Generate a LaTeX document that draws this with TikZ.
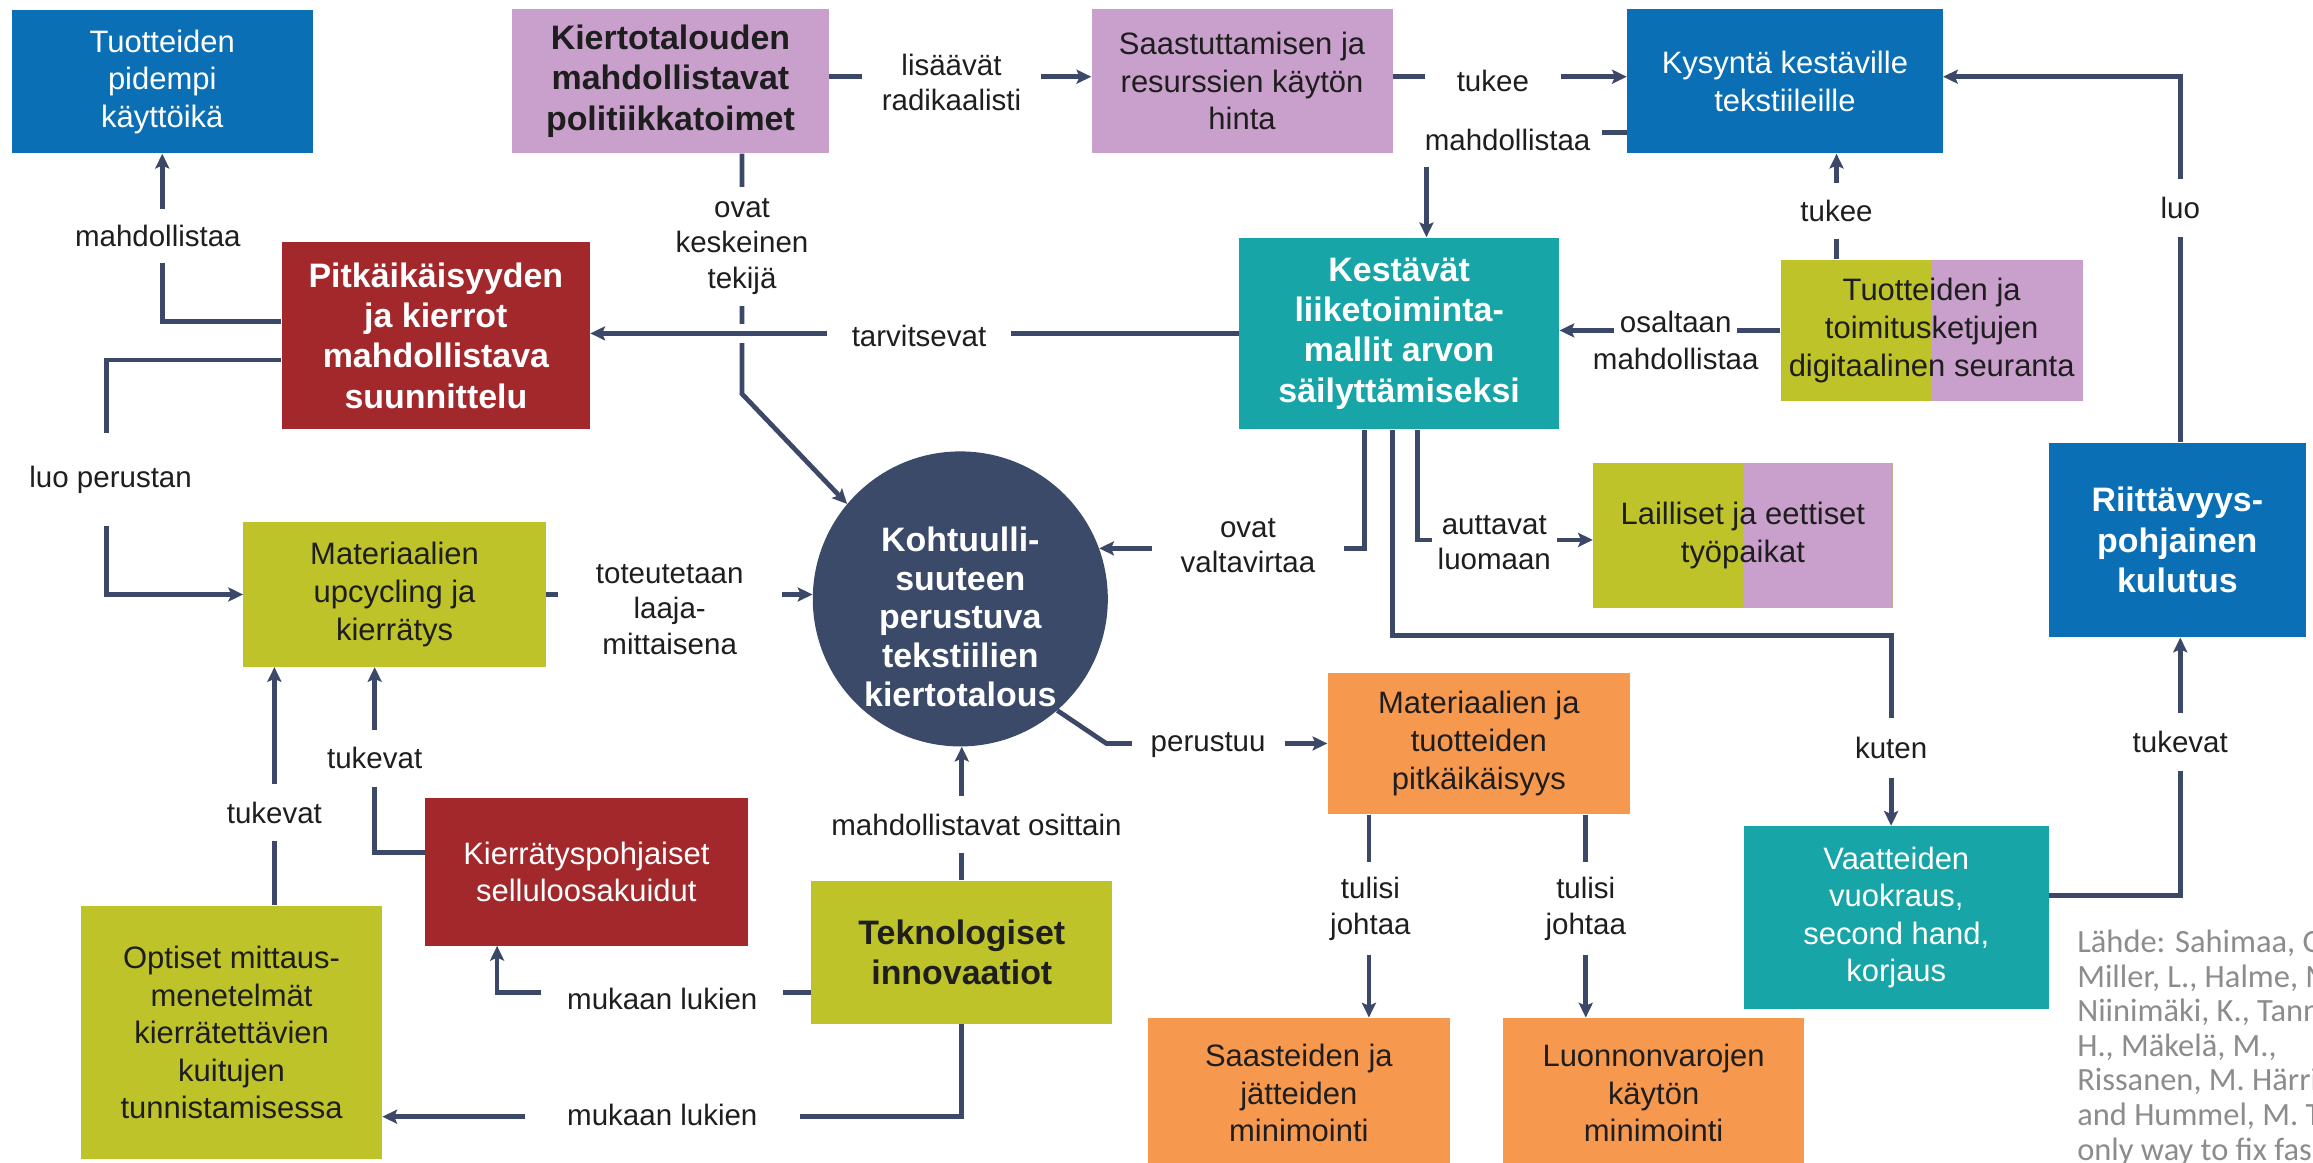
\documentclass[tikz,border=0pt]{standalone}
\usepackage{fontspec}
\setmainfont{Liberation Sans}
\newfontfamily\srcfont{Carlito}
\usetikzlibrary{arrows.meta}
\definecolor{cblue}{HTML}{0B6FB5}
\definecolor{clilac}{HTML}{C8A0CB}
\definecolor{cred}{HTML}{A2282B}
\definecolor{cteal}{HTML}{17A5A7}
\definecolor{colive}{HTML}{BEC329}
\definecolor{corange}{HTML}{F7984F}
\definecolor{cnavy}{HTML}{3A4A68}
\definecolor{cline}{HTML}{3B4868}
\definecolor{ctext}{HTML}{1E1E1E}
\definecolor{cgrey}{HTML}{8C8C8C}
\tikzset{
  box/.style={rectangle, inner sep=0pt, align=center, font=\fontsize{21}{25.5}\selectfont},
  boldbox/.style={box, font=\fontsize{23}{27.3}\selectfont\bfseries},
  splitbox/.style={box, fill=colive, text=ctext,
    path picture={\fill[colive] (path picture bounding box.south west) rectangle (path picture bounding box.north);
                  \fill[clilac] (path picture bounding box.south) rectangle (path picture bounding box.north east);}},
  conn/.style={draw=cline, line width=3.2pt},
  arr/.style={conn, -{Stealth[length=10pt,width=9.5pt,inset=2pt]}},
  lbl/.style={fill=white, inner xsep=6pt, inner ysep=4pt, align=center, text=ctext, font=\fontsize{20}{24}\selectfont},
}
\begin{document}
\begin{tikzpicture}[x=1pt,y=-1pt]
\useasboundingbox (0,0) rectangle (1568,788);
\fill[white] (0,0) rectangle (1568,788);
\clip (0,0) rectangle (1568,788);

% boxes
\node[box, fill=cblue, text=white, minimum width=204pt, minimum height=97pt] (tuo) at (110,55.5) {Tuotteiden\\pidempi\\käyttöikä};
\node[boldbox, fill=clilac, text=ctext, minimum width=215pt, minimum height=98pt] (kierto) at (454.5,55) {Kiertotalouden\\mahdollistavat\\politiikkatoimet};
\node[box, fill=clilac, text=ctext, minimum width=204pt, minimum height=98pt] (saast) at (842,55) {Saastuttamisen ja\\resurssien käytön\\hinta};
\node[box, fill=cblue, text=white, minimum width=214pt, minimum height=98pt] (kys) at (1210,55) {Kysyntä kestäville\\tekstiileille};
\node[boldbox, fill=cred, text=white, minimum width=209pt, minimum height=127pt] (pitka) at (295.5,227.5) {Pitkäikäisyyden\\ja kierrot\\mahdollistava\\suunnittelu};
\node[boldbox, fill=cteal, text=white, minimum width=217pt, minimum height=130pt] (kest) at (948.5,226) {Kestävät\\liiketoiminta-\\mallit arvon\\säilyttämiseksi};
\node[splitbox, minimum width=205pt, minimum height=96pt] (track) at (1309.5,224) {Tuotteiden ja\\toimitusketjujen\\digitaalinen seuranta};
\node[boldbox, fill=cblue, text=white, minimum width=174pt, minimum height=132pt] (riit) at (1476,366) {Riittävyys-\\pohjainen\\kulutus};
\node[box, fill=colive, text=ctext, minimum width=205pt, minimum height=98pt] (upc) at (267.5,403) {Materiaalien\\upcycling ja\\kierrätys};
\node[circle, fill=cnavy, minimum size=200pt, inner sep=0pt] (circ) at (651,406) {};
\node[align=center, text=white, inner sep=0pt, font=\fontsize{23}{26.2}\selectfont\bfseries] (circtxt) at (651,418) {Kohtuulli-\\suuteen\\perustuva\\tekstiilien\\kiertotalous};
\node[splitbox, minimum width=203pt, minimum height=98pt] (lail) at (1181.5,363) {Lailliset ja eettiset\\työpaikat};
\node[box, fill=corange, text=ctext, minimum width=205pt, minimum height=96pt] (mattuo) at (1002.5,504) {Materiaalien ja\\tuotteiden\\pitkäikäisyys};
\node[box, fill=cred, text=white, minimum width=219pt, minimum height=100pt] (sellu) at (397.5,591) {Kierrätyspohjaiset\\selluloosakuidut};
\node[boldbox, fill=colive, text=ctext, minimum width=204pt, minimum height=97pt] (tekno) at (652,645.5) {Teknologiset\\innovaatiot};
\node[box, fill=colive, text=ctext, minimum width=204pt, minimum height=172pt] (opt) at (157,700) {Optiset mittaus-\\menetelmät\\kierrätettävien\\kuitujen\\tunnistamisessa};
\node[box, fill=corange, text=ctext, minimum width=205pt, minimum height=102pt] (saas) at (880.5,741) {Saasteiden ja\\jätteiden\\minimointi};
\node[box, fill=corange, text=ctext, minimum width=204pt, minimum height=102pt] (luon) at (1121,741) {Luonnonvarojen\\käytön\\minimointi};
\node[box, fill=cteal, text=white, minimum width=207pt, minimum height=124pt] (vaat) at (1285.5,622) {Vaatteiden\\vuokraus,\\second hand,\\korjaus};

% source
\node[anchor=north west, inner sep=0pt, align=left, text=cgrey, font=\srcfont\fontsize{22}{23.4}\selectfont] (src) at (1408,630.5) {Lähde: Sahimaa, O.,\\Miller, L., Halme, M.,\\Niinimäki, K., Tanner,\\H., Mäkelä, M.,\\Rissanen, M. Härri, A.\\and Hummel, M. The\\only way to fix fashion};

% connectors
\draw[arr] (pitka.west |- 0,218) -| (tuo.south);
\draw[arr] (pitka.west |- 0,244) -| (72,403) -- (upc.west);
\draw[arr] (kierto.east |- 0,52) -- (saast.west |- 0,52);
\draw[arr] (saast.east |- 0,52) -- (kys.west |- 0,52);
\draw[arr] (kys.west |- 0,90) -| (kest.north -| 967,0);
\draw[arr] (kierto.south -| 503,0) -- (503,267) -- (circ.140);
\draw[arr, preaction={draw=white, line width=13pt}] (kest.west |- 0,226) -- (pitka.east |- 0,226);
\draw[arr] (kest.south -| 925,0) |- (circ.20);
\draw[arr] (kest.south -| 961,0) |- (lail.west |- 0,366);
\draw[arr] (kest.south -| 944,0) |- (1282,431) -- (vaat.north -| 1282,0);
\draw[arr] (track.west) -- (track.west -| kest.east);
\draw[arr] (track.north -| 1245,0) -- (kys.south -| 1245,0);
\draw[arr] (riit.north -| 1478,0) |- (kys.east |- 0,52);
\draw[arr] (vaat.east |- 0,607) -| (riit.south -| 1478,0);
\draw[arr] (mattuo.south -| 928,0) -- (saas.north -| 928,0);
\draw[arr] (mattuo.south -| 1075,0) -- (luon.north -| 1075,0);
\draw[arr] (circ.-49) -- (750,504) -- (mattuo.west);
\draw[arr] (upc.east) -- (upc.east -| circ.west);
\draw[arr] (tekno.north) -- (tekno.north |- circ.south);
\draw[arr] (tekno.west |- 0,673) -| (sellu.south -| 337,0);
\draw[arr] (tekno.south) |- (opt.east |- 0,757);
\draw[arr] (sellu.west |- 0,578) -| (upc.south -| 254,0);
\draw[arr] (opt.north -| 186,0) -- (upc.south -| 186,0);

% labels
\node[lbl, inner ysep=11pt] (l1) at (107,160) {mahdollistaa};
\node[lbl, inner xsep=4pt, inner ysep=22pt] (l2) at (75,325) {luo perustan};
\node[lbl, inner xsep=13.5pt] (l3) at (645,56) {lisäävät\\radikaalisti};
\node[lbl, inner xsep=21.5pt] (l4) at (1012,55) {tukee};
\node[lbl, inner xsep=8pt, inner ysep=11pt] (l5) at (1022,95) {mahdollistaa};
\node[lbl, inner xsep=17pt] (l6) at (623,228) {tarvitsevat};
\node[lbl, inner ysep=8pt] (l7) at (503,167) {ovat\\keskeinen\\tekijä};
\node[lbl, inner xsep=19.5pt] (l8) at (846,370) {ovat\\valtavirtaa};
\node[lbl, inner xsep=4pt] (l9) at (1013,368) {auttavat\\luomaan};
\node[lbl, inner ysep=13pt] (l10) at (1282,507) {kuten};
\node[lbl, inner xsep=4pt, inner ysep=3pt] (l11a) at (1136,218) {osaltaan};
\node[lbl, fill=none] (l11b) at (1136,243) {mahdollistaa};
\node[lbl, inner ysep=11.5pt] (l12) at (1245,143) {tukee};
\node[lbl, inner ysep=12.5pt] (l13) at (1478,141) {luo};
\node[lbl, inner ysep=12pt] (l14) at (1478,503) {tukevat};
\node[lbl, inner ysep=10pt] (l15) at (929,616) {tulisi\\johtaa};
\node[lbl, inner ysep=10pt] (l16) at (1075,616) {tulisi\\johtaa};
\node[lbl, inner xsep=13pt] (l17) at (819,505) {perustuu};
\node[lbl, inner xsep=26pt] (l18) at (454,413) {toteutetaan\\laaja-\\mittaisena};
\node[lbl, inner ysep=12pt] (l19) at (662,559) {mahdollistavat osittain};
\node[lbl, inner xsep=17.5pt] (l20) at (449,677) {mukaan lukien};
\node[lbl, inner xsep=28.5pt] (l21) at (449,756) {mukaan lukien};
\node[lbl, inner ysep=12pt] (l22) at (254,514) {tukevat};
\node[lbl, inner ysep=12pt] (l23) at (186,551) {tukevat};
\end{tikzpicture}
\end{document}
